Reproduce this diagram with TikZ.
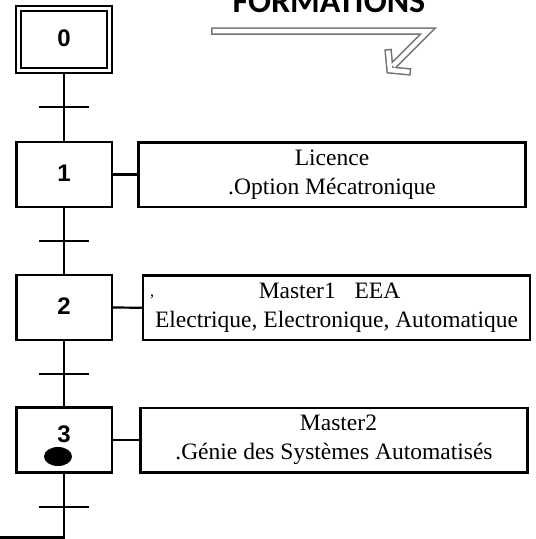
\documentclass[tikz,border=0pt]{standalone}
\usepackage{fontspec}
\setmainfont{Liberation Serif}
\newfontfamily\numfont{Liberation Sans}
\newfontfamily\titlefont{Carlito}
\usetikzlibrary{shapes.geometric}

\begin{document}
\begin{tikzpicture}[x=1pt,y=-1pt,
    stepbox/.style={draw, line width=2.5pt, minimum width=95.5pt, minimum height=65pt, inner sep=0pt,
      text height=17pt, text depth=4pt, font=\numfont\bfseries\fontsize{24}{24}\selectfont},
    initstep/.style={stepbox, line width=2pt, double, double distance=3pt, minimum width=91pt, minimum height=62pt},
    actionbox/.style={draw, line width=2.5pt, minimum width=387pt, minimum height=64.5pt, inner sep=0pt,
      align=center, font=\fontsize{23.5}{29}\selectfont},
    transbar/.style={fill, minimum width=50pt, minimum height=2.5pt, inner sep=0pt},
    token/.style={fill, ellipse, minimum width=28pt, minimum height=19pt, inner sep=0pt},
    link/.style={line width=2.2pt},
    bigarrow/.style={line width=7.5pt, draw=black!55, line join=miter},
    bigarrowin/.style={line width=4.5pt, draw=white, line join=miter, shorten <=1.5pt},
  ]
  \useasboundingbox (0,0) rectangle (536,539);
  % title and arrow
  \node[font=\titlefont\bfseries\fontsize{34}{34}\selectfont, anchor=base] (title) at (329,12.5) {FORMATIONS};
  \draw[bigarrow] (211,31) -- (428,31) -- (393,66);
  \draw[bigarrow] (388,49) -- (390,70) -- (411,72);
  \draw[bigarrowin] (211,31) -- (428,31) -- (393,66);
  \draw[bigarrowin, shorten >=1.5pt] (388,49) -- (390,70) -- (411,72);
  % steps
  \node[initstep] (s0) at (64,39.5) {0};
  \node[stepbox] (s1) at (64,174.5) {1};
  \node[stepbox] (s2) at (64,307.5) {2};
  \node[stepbox] (s3) at (64,440) {\raisebox{4pt}[\height]{3}};
  \node[token] (m3) at (58,456.5) {};
  % transitions
  \node[transbar] (t0) at (64,107) {};
  \node[transbar] (t1) at (64,241) {};
  \node[transbar] (t2) at (64,374) {};
  \node[transbar] (t3) at (64,507) {};
  \coordinate (back) at (64,537.5);
  \coordinate (backend) at (0,537.5);
  \draw[link] (s0.south) -- (s1.north);
  \draw[link] (s1.south) -- (s2.north);
  \draw[link] (s2.south) -- (s3.north);
  \draw[link] (s3.south) -- (back) -- (backend);
  % actions
  \node[actionbox] (a1) at (332,174.5) {Licence\\.Option Mécatronique};
  \node[actionbox] (a2) at (336.5,307.75) {Master1\hspace{0.8em}EEA\hspace*{14pt}\\Electrique, Electronique, Automatique};
  \node[actionbox] (a3) at (334,440) {\hspace*{9pt}Master2\\.Génie des Systèmes Automatisés};
  \node[font=\fontsize{16}{16}\selectfont] (mark) at (152,297) {,};
  \draw[link] (s1.east) -- (a1.west);
  \draw[link] (s2.east) -- (a2.west);
  \draw[link] (s3.east) -- (a3.west);
\end{tikzpicture}
\end{document}
